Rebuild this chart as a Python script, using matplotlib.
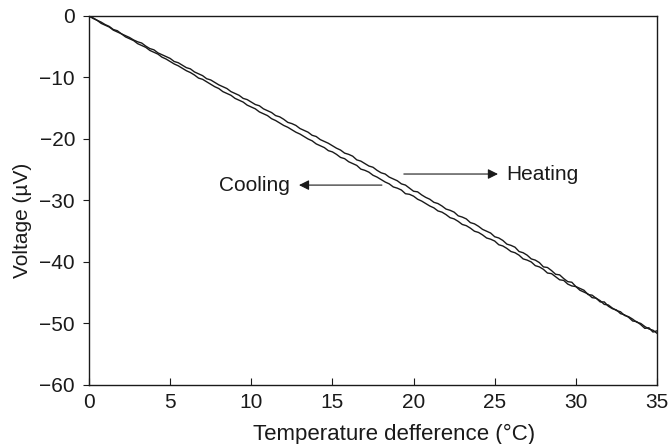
import numpy as np
import matplotlib as mpl
mpl.use('Agg')
import matplotlib.pyplot as plt

plt.rcParams['font.family'] = ['Liberation Sans', 'DejaVu Sans']

# temperature difference (degC), sampled every 0.25
temp = [i * 0.25 for i in range(141)]

# voltage (uV), heating run
heating = [0.0, -0.3, -0.7, -1.0, -1.4, -1.7, -2.2, -2.4, -2.9, -3.2,
           -3.5, -3.9, -4.2, -4.4, -4.9, -5.3, -5.5, -6.0, -6.3, -6.6,
           -6.9, -7.4, -7.6, -8.0, -8.4, -8.6, -9.1, -9.4, -9.7, -10.2,
           -10.4, -10.8, -11.2, -11.5, -11.8, -12.3, -12.6, -12.9, -13.4, -13.6,
           -14.0, -14.4, -14.6, -15.1, -15.4, -15.7, -16.2, -16.4, -16.8, -17.3,
           -17.5, -17.8, -18.3, -18.6, -18.9, -19.4, -19.6, -20.1, -20.4, -20.7,
           -21.1, -21.5, -21.8, -22.3, -22.5, -22.8, -23.4, -23.6, -24.0, -24.4,
           -24.6, -25.1, -25.5, -25.7, -26.2, -26.5, -26.8, -27.3, -27.5, -28.0,
           -28.5, -28.6, -29.1, -29.5, -29.8, -30.3, -30.5, -30.9, -31.4, -31.6,
           -31.9, -32.5, -32.7, -33.0, -33.6, -33.8, -34.2, -34.7, -35.0, -35.3,
           -35.9, -36.1, -36.5, -37.1, -37.3, -37.6, -38.3, -38.5, -38.9, -39.5,
           -39.7, -40.1, -40.8, -40.9, -41.4, -42.0, -42.1, -42.7, -43.2, -43.3,
           -44.0, -44.3, -44.6, -45.3, -45.4, -45.9, -46.5, -46.5, -47.2, -47.6,
           -47.8, -48.4, -48.6, -49.0, -49.6, -49.7, -50.2, -50.8, -50.7, -51.4,
           -51.2]

# voltage (uV), cooling run
cooling = [0.0, -0.4, -0.7, -1.2, -1.5, -1.8, -2.3, -2.6, -2.9, -3.4,
           -3.7, -4.0, -4.5, -4.8, -5.1, -5.6, -5.9, -6.2, -6.7, -7.0,
           -7.4, -7.8, -8.1, -8.5, -8.9, -9.2, -9.6, -10.1, -10.3, -10.7,
           -11.1, -11.5, -11.8, -12.3, -12.6, -12.9, -13.4, -13.7, -14.0, -14.5,
           -14.8, -15.1, -15.6, -15.9, -16.2, -16.7, -17.0, -17.4, -17.8, -18.1,
           -18.5, -18.9, -19.2, -19.6, -20.0, -20.3, -20.8, -21.1, -21.4, -21.9,
           -22.1, -22.5, -23.0, -23.2, -23.7, -24.0, -24.3, -24.9, -25.1, -25.4,
           -25.9, -26.2, -26.6, -27.0, -27.3, -27.8, -28.0, -28.3, -28.9, -29.0,
           -29.3, -29.8, -30.1, -30.5, -30.9, -31.2, -31.7, -31.9, -32.3, -32.8,
           -33.0, -33.4, -33.9, -34.1, -34.5, -35.0, -35.2, -35.6, -36.1, -36.3,
           -36.6, -37.2, -37.4, -37.8, -38.3, -38.5, -38.9, -39.5, -39.7, -40.0,
           -40.6, -40.8, -41.2, -41.8, -41.9, -42.4, -42.9, -43.0, -43.6, -43.9,
           -44.0, -44.6, -44.9, -45.2, -45.8, -45.9, -46.3, -46.9, -47.0, -47.5,
           -47.9, -48.1, -48.7, -48.9, -49.3, -49.8, -50.0, -50.5, -50.9, -51.1,
           -51.6]

xticks = [0, 5, 10, 15, 20, 25, 30, 35]
yticks = [-60, -50, -40, -30, -20, -10, 0]

ink = '#1a1a1a'
fs = 15

fig = plt.figure(figsize=(6.72, 4.44), dpi=100)
ax = fig.add_axes([0.1324, 0.133, 0.8453, 0.831])

ax.plot(temp, heating, color=ink, lw=1.0)
ax.plot(temp, cooling, color=ink, lw=1.0)

ax.set_xlim(0, 35)
ax.set_ylim(-60, 0)
ax.set_xticks(xticks)
ax.set_yticks(yticks)
ax.set_yticklabels(['\u2212%d' % -v if v else '0' for v in yticks])
ax.tick_params(axis='x', direction='in', length=5, width=0.8,
               labelsize=fs, colors=ink, pad=6)
ax.tick_params(axis='y', direction='out', length=4, width=0.8,
               labelsize=fs, colors=ink, pad=6)
for s in ax.spines.values():
    s.set_linewidth(1.0)
    s.set_color(ink)

ax.set_xlabel('Temperature defference (\u00b0C)', fontsize=16, color=ink)
ax.set_ylabel('Voltage (\u00b5V)', fontsize=fs, color=ink)
ax.xaxis.set_label_coords(0.537, -0.105)
ax.yaxis.set_label_coords(-0.100, 0.447)

arrow = dict(arrowstyle='-|>', color=ink, lw=0.8,
             mutation_scale=15, shrinkA=0, shrinkB=0)
ax.annotate('', xy=(25.2, -25.7), xytext=(19.4, -25.7), arrowprops=arrow)
ax.annotate('', xy=(12.94, -27.5), xytext=(18.05, -27.5), arrowprops=arrow)
ax.text(25.7, -25.7, 'Heating', fontsize=fs, va='center', ha='left',
        color=ink)
ax.text(12.4, -27.5, 'Cooling', fontsize=fs, va='center', ha='right',
        color=ink)

fig.savefig('out.png', dpi=100)
